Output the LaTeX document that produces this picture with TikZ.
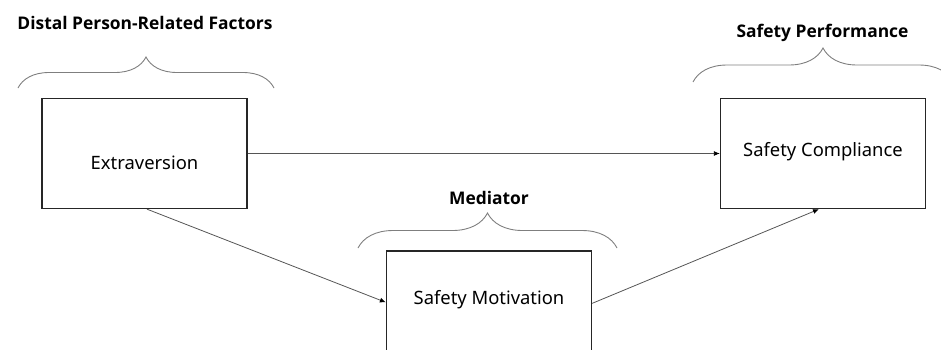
\documentclass[tikz,border=0pt]{standalone}
\usepackage{fontspec}
\setmainfont{Noto Sans}
\newfontfamily\headfont{Open Sans}
\usetikzlibrary{positioning,arrows.meta,decorations.pathreplacing}
\definecolor{edge}{HTML}{555555}
\definecolor{curly}{HTML}{7F7F7F}

\begin{document}
\begin{tikzpicture}[x=1pt, y=-1pt, font=\fontsize{18.4}{22}\selectfont,
          box/.style={draw=black!85, line width=1.3pt, minimum width=205pt,
                      minimum height=110pt, inner sep=0pt},
          arr/.style={-{Latex[length=6pt,width=5pt,color=black]}, draw=edge, line width=0.8pt},
          curl/.style={draw=curly, line width=0.9pt, decorate,
                       decoration={brace, amplitude=#1}},
          head/.style={font=\headfont\fontsize{17.4}{21}\selectfont\bfseries}]
  \clip (0,0) rectangle (941,349);

  % boxes
  \node[box, text height=31pt, text depth=0pt]  (extra) at (144.5,153.5) {Extraversion};
  \node[box, text height=13pt, text depth=8pt]  (comp)  at (823,153.5)   {Safety Compliance};
  \node[box, minimum height=120pt, text height=13pt, text depth=27pt]
        (motiv) at (489,311) {Safety Motivation};

  % braces and their headings
  \coordinate (distalL) at (18,88);  \coordinate (distalR) at (274,88);
  \coordinate (perfL)   at (693,82); \coordinate (perfR)   at (953,82);
  \coordinate (medL)    at (358,248); \coordinate (medR)   at (617,248);
  \draw[curl=31pt] (distalL) -- (distalR);
  \draw[curl=34pt] (perfL) -- (perfR);
  \draw[curl=35pt] (medL) -- (medR);
  \node[head] (distal) at (145,23)   {Distal Person-Related Factors};
  \node[head] (perf)   at (822.5,33) {Safety Performance};
  \node[head] (med)    at (489,198)  {Mediator};

  % paths
  \draw[arr] (extra) -- (comp);
  \draw[arr] ([xshift=2.5pt]extra.south) -- ([yshift=-52pt]motiv.north west);
  \draw[arr] ([yshift=-53pt]motiv.north east) -- ([xshift=-4pt]comp.south);
\end{tikzpicture}
\end{document}
